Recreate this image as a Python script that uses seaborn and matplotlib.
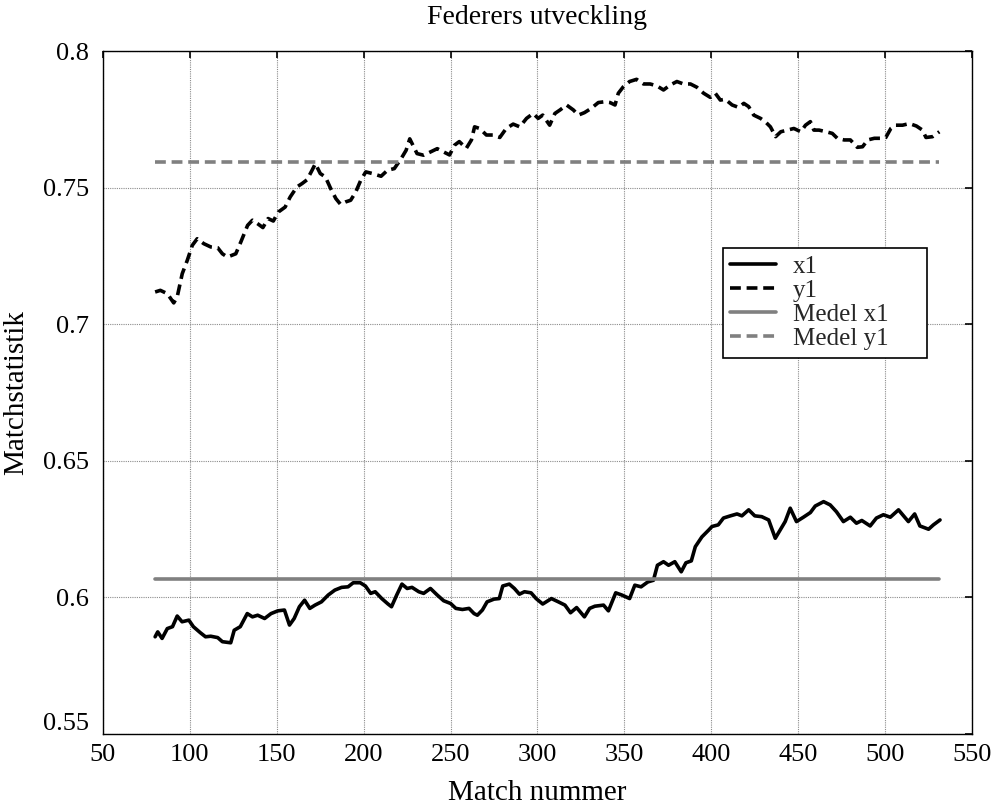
import matplotlib
matplotlib.use("Agg")
import matplotlib.pyplot as plt
import matplotlib.transforms as mtransforms
import seaborn as sns
import pandas as pd
import numpy as np

# ---- data ----
x1_match = [80, 81.5, 84, 87, 90, 92.7, 95.5, 99.4, 102, 106, 109, 112, 116, 118.7, 123.5,
            125.5, 129, 133, 136, 139, 143, 146.7, 150.6, 154.4, 157.3, 160, 163, 166, 169,
            172, 175.7, 179.6, 183.4, 187.3, 191, 194, 198, 201, 204, 206.6, 210.4, 214, 216,
            219, 222, 225, 227.8, 231.7, 234.5, 238.4, 242.3, 246, 250, 253, 256.8, 260.6,
            263.5, 265.4, 268.3, 271, 275, 278, 280, 283.8, 286.7, 289.6, 292.5, 296.3, 299.2,
            303, 308, 312, 315.8, 319, 322.5, 327, 330, 333, 338, 340.8, 345, 348.5, 353, 356,
            359.6, 363.5, 366.7, 369, 372.5, 375.4, 379, 382.7, 385.4, 388.5, 390.8, 394.6,
            398.5, 400.4, 404, 407, 411, 414.8, 417.6, 421.5, 425, 429, 433, 436.8, 439.7,
            442.5, 445.4, 449, 453, 457, 459.8, 464.6, 468.4, 472, 476, 480, 483.5, 486.6,
            491.4, 495, 499, 503, 507.7, 513.4, 517, 520, 525, 527.8, 531.6]
x1_vals = [0.5856, 0.5874, 0.5850, 0.5886, 0.5893, 0.5932, 0.5911, 0.5917, 0.5893, 0.5871,
           0.5856, 0.5858, 0.5853, 0.5838, 0.5834, 0.5880, 0.5893, 0.5941, 0.5929, 0.5935,
           0.5923, 0.5941, 0.5951, 0.5954, 0.5899, 0.5923, 0.5966, 0.5990, 0.5960, 0.5972,
           0.5984, 0.6009, 0.6027, 0.6037, 0.6039, 0.6054, 0.6054, 0.6042, 0.6015, 0.6021,
           0.5996, 0.5976, 0.5966, 0.6009, 0.6049, 0.6033, 0.6037, 0.6021, 0.6015, 0.6033,
           0.6009, 0.5988, 0.5978, 0.5960, 0.5956, 0.5960, 0.5941, 0.5935, 0.5954, 0.5984,
           0.5994, 0.5996, 0.6042, 0.6049, 0.6033, 0.6012, 0.6021, 0.6017, 0.5996, 0.5976,
           0.5996, 0.5984, 0.5972, 0.5944, 0.5963, 0.5929, 0.5960, 0.5968, 0.5972, 0.5951,
           0.6017, 0.6009, 0.5996, 0.6045, 0.6039, 0.6057, 0.6063, 0.6118, 0.6131, 0.6118,
           0.6131, 0.6094, 0.6127, 0.6134, 0.6186, 0.6222, 0.6247, 0.6260, 0.6266, 0.6291,
           0.6299, 0.6306, 0.6299, 0.6321, 0.6299, 0.6296, 0.6284, 0.6217, 0.6248, 0.6278,
           0.6327, 0.6278, 0.6294, 0.6311, 0.6335, 0.6351, 0.6339, 0.6314, 0.6278, 0.6294,
           0.6272, 0.6282, 0.6262, 0.6291, 0.6303, 0.6294, 0.6321, 0.6278, 0.6306, 0.6262,
           0.6250, 0.6266, 0.6284]

y1_match = [80, 83, 87, 90.7, 92.7, 95.6, 98.5, 101.4, 104.2, 108, 112, 116, 118.7, 121.6,
            126.4, 129.3, 133.2, 136, 139, 142, 145, 148, 150.9, 154.8, 157.7, 161.6, 164.5,
            167.4, 170.3, 172.2, 175, 178, 181, 184, 186.7, 189.6, 192.5, 195.4, 198.3, 201.2,
            205, 210, 213.7, 217.6, 221.5, 224.4, 226.5, 230.7, 234.5, 238.4, 242.3, 246,
            249.4, 252.3, 255, 259, 262, 263.8, 266.7, 270.6, 274.4, 278.3, 282, 286, 289.8,
            293.7, 297.5, 300.4, 303, 307, 310, 313, 316.7, 320.6, 323.5, 327, 331, 335, 338.8,
            341.7, 344.6, 346.5, 349.4, 353, 357, 361, 364.8, 368.7, 372.5, 376.3, 380.2, 384,
            388, 391.7, 395.6, 399.4, 402.3, 405.2, 408, 412, 415.8, 418.7, 421.5, 424.4,
            428.3, 431, 434, 437, 440, 443.7, 447.5, 451.5, 454.2, 457, 459, 462, 466, 469.6,
            472.5, 476.4, 480, 484, 487, 490, 493.8, 497.5, 500.4, 503.3, 506, 510, 514, 518,
            521.5, 523.5, 527.3, 531.2]
y1_vals = [0.7119, 0.7125, 0.7113, 0.7079, 0.7101, 0.7186, 0.7235, 0.7290, 0.7314, 0.7296,
           0.7284, 0.7281, 0.7259, 0.7247, 0.7259, 0.7302, 0.7363, 0.7382, 0.7369, 0.7355,
           0.7388, 0.7379, 0.7412, 0.7430, 0.7467, 0.7504, 0.7516, 0.7530, 0.7565, 0.7589,
           0.7553, 0.7540, 0.7498, 0.7461, 0.7440, 0.7449, 0.7455, 0.7485, 0.7528, 0.7559,
           0.7553, 0.7543, 0.7565, 0.7571, 0.7607, 0.7638, 0.7680, 0.7626, 0.7620, 0.7632,
           0.7644, 0.7632, 0.7621, 0.7657, 0.7670, 0.7645, 0.7676, 0.7724, 0.7718, 0.7694,
           0.7694, 0.7685, 0.7718, 0.7734, 0.7724, 0.7755, 0.7773, 0.7755, 0.7767, 0.7730,
           0.7773, 0.7786, 0.7804, 0.7786, 0.7767, 0.7776, 0.7792, 0.7813, 0.7816, 0.7813,
           0.7804, 0.7847, 0.7871, 0.7890, 0.7898, 0.7881, 0.7881, 0.7874, 0.7859, 0.7877,
           0.7890, 0.7881, 0.7881, 0.7869, 0.7847, 0.7832, 0.7847, 0.7822, 0.7825, 0.7804,
           0.7795, 0.7810, 0.7798, 0.7767, 0.7755, 0.7743, 0.7724, 0.7688, 0.7706, 0.7712,
           0.7718, 0.7706, 0.7730, 0.7743, 0.7712, 0.7712, 0.7706, 0.7700, 0.7682, 0.7676,
           0.7676, 0.7649, 0.7651, 0.7676, 0.7682, 0.7682, 0.7685, 0.7718, 0.7730, 0.7730,
           0.7736, 0.7727, 0.7712, 0.7685, 0.7688, 0.7706]

mean_range = [80, 531]
mean_x1 = 0.6066
mean_y1 = 0.7596

x_ticks = [50, 100, 150, 200, 250, 300, 350, 400, 450, 500, 550]
y_ticks = [0.55, 0.6, 0.65, 0.7, 0.75, 0.8]
title = "Federers utveckling"
xlabel = "Match nummer"
ylabel = "Matchstatistik"

# ---- plotting ----
sns.set_theme(style="white")
plt.rcParams["font.family"] = ["Liberation Serif", "DejaVu Serif"]

fig = plt.figure(figsize=(9.95, 8.07), dpi=100)
ax = fig.add_axes([0.1035, 0.0905, 0.8734, 0.8457])

df_x1 = pd.DataFrame({"m": x1_match, "v": x1_vals})
df_y1 = pd.DataFrame({"m": y1_match, "v": y1_vals})
df_mx = pd.DataFrame({"m": mean_range, "v": [mean_x1] * len(mean_range)})
df_my = pd.DataFrame({"m": mean_range, "v": [mean_y1] * len(mean_range)})

lw = 2.6
dash = (0, (3.0, 1.6))
sns.lineplot(data=df_x1, x="m", y="v", ax=ax, color="black", lw=lw, sort=False,
             estimator=None, label="x1")
sns.lineplot(data=df_y1, x="m", y="v", ax=ax, color="black", lw=lw, sort=False,
             estimator=None, label="y1", linestyle=dash)
sns.lineplot(data=df_mx, x="m", y="v", ax=ax, color="#808080", lw=lw, sort=False,
             estimator=None, label="Medel x1")
sns.lineplot(data=df_my, x="m", y="v", ax=ax, color="#808080", lw=lw, sort=False,
             estimator=None, label="Medel y1", linestyle=dash)

ax.set_xlim(50, 550)
ax.set_ylim(0.55, 0.8)
ax.set_xticks(x_ticks)
ax.set_yticks(y_ticks)
ax.set_xticklabels([str(t) for t in x_ticks])
ax.set_yticklabels([f"{t:g}" for t in y_ticks])

ax.grid(True, color="#8c8c8c", linestyle=(0, (1, 1)), linewidth=0.8)
ax.set_axisbelow(True)
for s in ax.spines.values():
    s.set_color("black")
    s.set_linewidth(1.0)
ax.tick_params(direction="in", length=5, width=1.2, top=True, right=True,
               labelsize=19, colors="black")
ax.tick_params(axis="y", pad=10)
ax.tick_params(axis="x", pad=7)

# lowest y tick label sits slightly raised, as in the reference
ylabs = ax.get_yticklabels()
ylabs[0].set_transform(ylabs[0].get_transform() +
                       mtransforms.ScaledTranslation(0, 12 / 100, fig.dpi_scale_trans))

ax.set_title(title, fontsize=20, color="black", pad=20)
ax.set_xlabel(xlabel, fontsize=21, color="black", labelpad=10)
ax.set_ylabel(ylabel, fontsize=21, color="black", labelpad=10)

leg = ax.legend(loc="upper left", bbox_to_anchor=(0.713, 0.5, 0.2347, 0.212),
                mode="expand", fontsize=18, frameon=True, fancybox=False,
                edgecolor="black", handlelength=1.85, labelspacing=0.06,
                borderpad=0.3, handletextpad=0.65, borderaxespad=0)
leg.get_frame().set_linewidth(1.2)
leg.get_frame().set_alpha(1)

fig.savefig("out.png", dpi=100)
